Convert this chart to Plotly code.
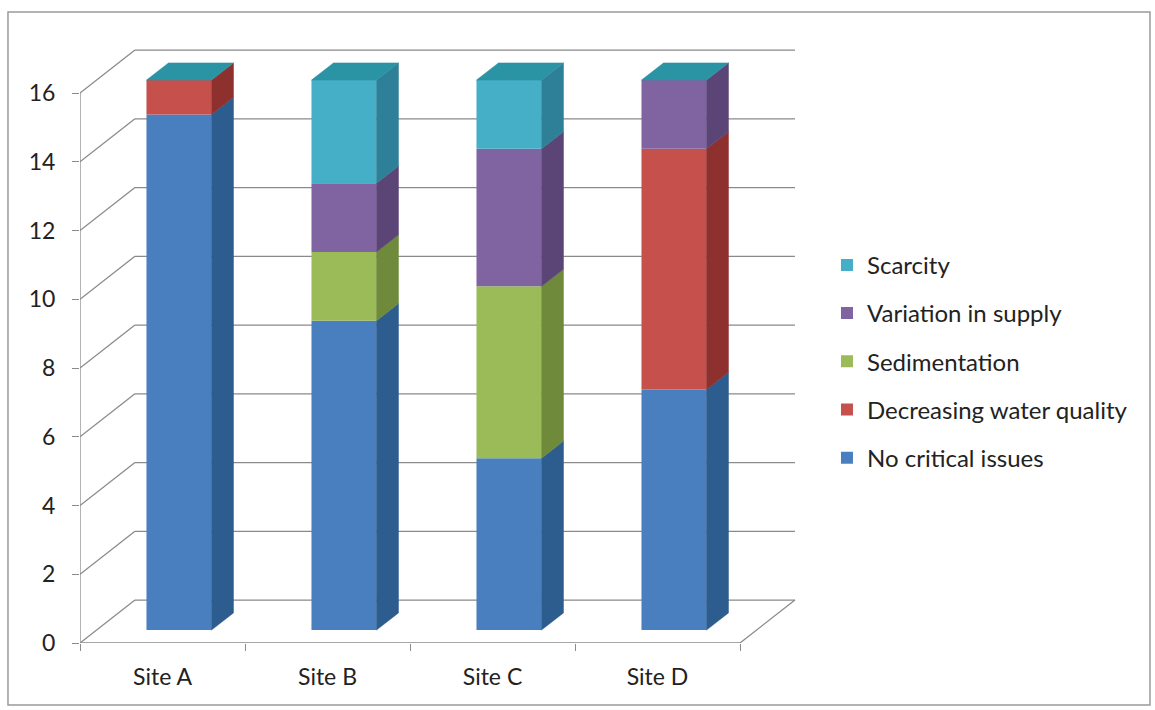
import plotly.graph_objects as go

sites = ["Site A", "Site B", "Site C", "Site D"]
series_names = ["No critical issues", "Decreasing water quality", "Sedimentation",
                "Variation in supply", "Scarcity"]
no_critical = [15, 9, 5, 7]
decreasing_quality = [1, 0, 0, 7]
sedimentation = [0, 2, 5, 0]
variation_supply = [0, 2, 4, 2]
scarcity = [0, 3, 2, 0]
y_ticks = [0, 2, 4, 6, 8, 10, 12, 14, 16]

series_values = [no_critical, decreasing_quality, sedimentation, variation_supply, scarcity]
front_colors = ["#4A7FBF", "#C5504C", "#9BBB59", "#8064A2", "#46AFC8"]
side_colors = ["#2D5C8E", "#8E302E", "#6F8A3A", "#5A4576", "#2E8098"]
top_color = "#2A93A4"

# pseudo-3D geometry (in axis units)
DX, DY = 0.333, 1.25        # full depth of the walls
D_FRONT, D_BACK = 0.3, 0.7  # depth of bar faces
HALF = 0.197                # half bar width

def proj(x, y, d):
    return x + d * DX, y + d * DY

fig = go.Figure()
xs = list(range(len(sites)))
bottoms = [0.0] * len(sites)
totals = [sum(s[i] for s in series_values) for i in xs]
n = len(series_names)

for k, (name, vals) in enumerate(zip(series_names, series_values)):
    base_front = [b + D_FRONT * DY for b in bottoms]
    fig.add_trace(go.Bar(
        x=xs, y=vals, base=base_front, name=name,
        offset=-HALF + D_FRONT * DX, width=2 * HALF,
        marker=dict(color=front_colors[k], line=dict(width=0)),
        legendrank=n - k, legendgroup=name,
    ))
    for i in xs:
        v = vals[i]
        if v <= 0:
            continue
        b, t = bottoms[i], bottoms[i] + v
        xr = i + HALF
        pts = [proj(xr, b, D_FRONT), proj(xr, b, D_BACK), proj(xr, t, D_BACK), proj(xr, t, D_FRONT)]
        fig.add_trace(go.Scatter(
            x=[p[0] for p in pts] + [pts[0][0]], y=[p[1] for p in pts] + [pts[0][1]],
            fill="toself", fillcolor=side_colors[k], mode="lines",
            line=dict(width=0.5, color=side_colors[k]),
            hoverinfo="skip", showlegend=False,
        ))
    bottoms = [bottoms[i] + vals[i] for i in xs]

# top faces
for i in xs:
    T = totals[i]
    xl, xr = i - HALF, i + HALF
    pts = [proj(xl, T, D_FRONT), proj(xr, T, D_FRONT), proj(xr, T, D_BACK), proj(xl, T, D_BACK)]
    fig.add_trace(go.Scatter(
        x=[p[0] for p in pts] + [pts[0][0]], y=[p[1] for p in pts] + [pts[0][1]],
        fill="toself", fillcolor=top_color, mode="lines",
        line=dict(width=0.5, color=top_color),
        hoverinfo="skip", showlegend=False,
    ))

# walls: back gridlines + left wall diagonals
grid_col = "#8A8A8A"
shapes = []
x0, x1 = -0.5, len(sites) - 0.5
for v in y_ticks:
    shapes.append(dict(type="line", xref="x", yref="y", x0=x0 + DX, x1=x1 + DX,
                       y0=v + DY, y1=v + DY, line=dict(color=grid_col, width=1.3), layer="below"))
    shapes.append(dict(type="line", xref="x", yref="y", x0=x0, x1=x0 + DX,
                       y0=v, y1=v + DY, line=dict(color=grid_col, width=1.3), layer="below"))
# floor right edge, front axis lines
shapes.append(dict(type="line", xref="x", yref="y", x0=x1, x1=x1 + DX, y0=0, y1=DY,
                   line=dict(color=grid_col, width=1.3), layer="below"))
shapes.append(dict(type="line", xref="x", yref="y", x0=x0, x1=x1, y0=0, y1=0,
                   line=dict(color=grid_col, width=1.3), layer="below"))
shapes.append(dict(type="line", xref="x", yref="y", x0=x0, x1=x0, y0=0, y1=max(y_ticks),
                   line=dict(color=grid_col, width=1.3), layer="below"))
# outer chart border
shapes.append(dict(type="rect", xref="paper", yref="paper", x0=-0.0992, x1=1.4738,
                   y0=-0.1028, y1=1.0464, line=dict(color="#9A9A9A", width=1.5), layer="below"))

font = "Lato, 'Open Sans', sans-serif"
fig.update_layout(
    width=1155, height=710,
    margin=dict(l=80, r=349, t=40, b=67),
    paper_bgcolor="white", plot_bgcolor="rgba(0,0,0,0)",
    barmode="overlay",
    shapes=shapes,
    showlegend=True,
    legend=dict(xref="container", yref="container", x=0.716, y=0.658, xanchor="left", yanchor="top",
                traceorder="grouped", tracegroupgap=14,
                font=dict(family=font, size=24, color="#222"),
                itemwidth=30, bgcolor="rgba(0,0,0,0)"),
    xaxis=dict(range=[-0.5, 3.9], tickvals=xs, ticktext=sites, showgrid=False, zeroline=False,
               showline=False, ticks="", ticklabelstandoff=18,
               tickfont=dict(family=font, size=23, color="#222"),
               minor=dict(tickvals=[-0.5, 0.5, 1.5, 2.5, 3.5], ticks="outside", ticklen=7,
                          tickcolor=grid_col, showgrid=False)),
    yaxis=dict(range=[0, 603 / 34.375], tickvals=y_ticks, showgrid=False, zeroline=False,
               showline=False, ticks="outside", ticklen=7, tickcolor=grid_col,
               ticklabelstandoff=12,
               tickfont=dict(family=font, size=23, color="#222")),
)

fig.write_html("out.html")
